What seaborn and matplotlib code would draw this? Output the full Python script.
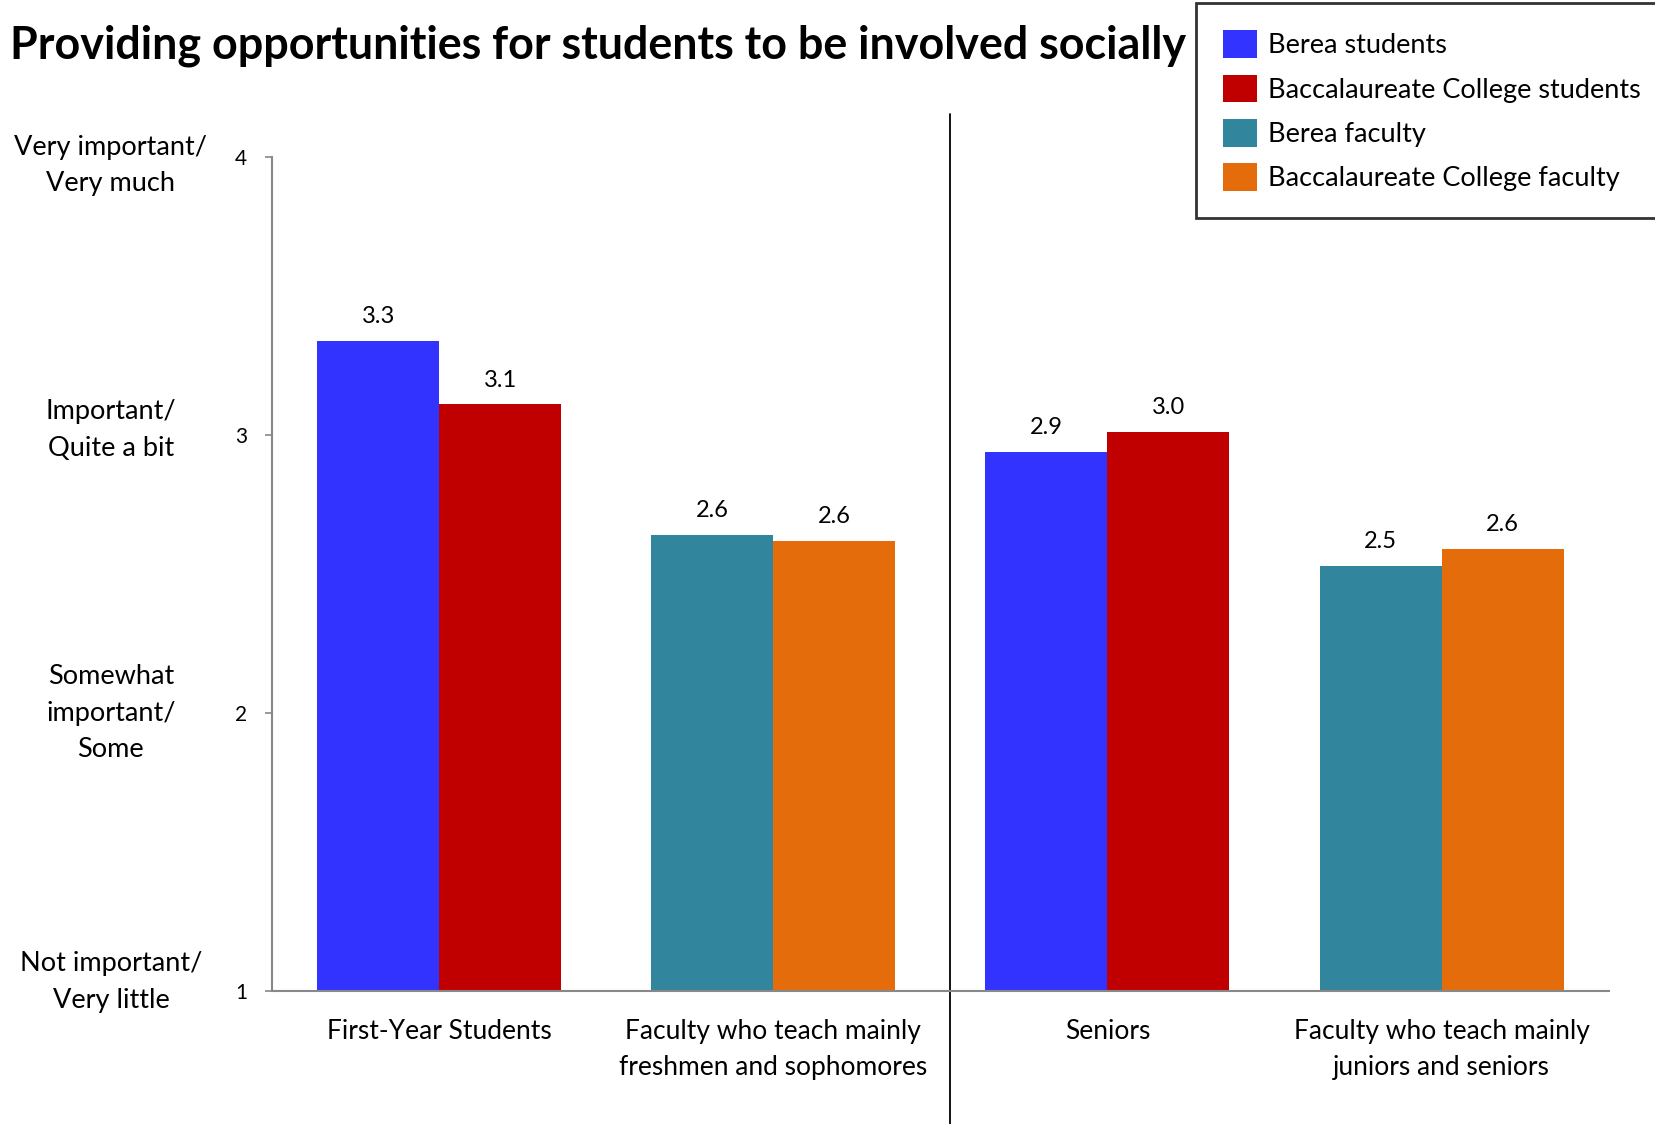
import matplotlib
matplotlib.use("Agg")
import matplotlib.pyplot as plt
from matplotlib.patches import Patch
from matplotlib.transforms import blended_transform_factory
import seaborn as sns
import pandas as pd

# Survey means on a 1-4 scale
categories = [
    "First-Year Students",
    "Faculty who teach mainly\nfreshmen and sophomores",
    "Seniors",
    "Faculty who teach mainly\njuniors and seniors",
]
berea_values = [3.34, 2.64, 2.94, 2.53]          # Berea students / Berea faculty
baccalaureate_values = [3.11, 2.62, 3.01, 2.59]  # Baccalaureate College students / faculty
left_series = ["Berea students", "Berea faculty", "Berea students", "Berea faculty"]
right_series = ["Baccalaureate College students", "Baccalaureate College faculty",
                "Baccalaureate College students", "Baccalaureate College faculty"]

series_names = ["Berea students", "Baccalaureate College students",
                "Berea faculty", "Baccalaureate College faculty"]
series_colors = ["#3333FF", "#C00000", "#31859C", "#E46C0A"]

y_ticks = [1, 2, 3, 4]
y_descriptions = ["Not important/\nVery little", "Somewhat\nimportant/\nSome",
                  "Important/\nQuite a bit", "Very important/\nVery much"]

title = "Providing opportunities for students to be involved socially"

df = pd.DataFrame({
    "category": categories * 2,
    "slot": ["Berea"] * 4 + ["Baccalaureate"] * 4,
    "series": left_series + right_series,
    "value": berea_values + baccalaureate_values,
})

sns.set_theme(style="white")
plt.rcParams["font.family"] = ["Lato", "DejaVu Sans"]
plt.rcParams["text.color"] = "black"
plt.rcParams["axes.labelcolor"] = "black"
plt.rcParams["xtick.color"] = "black"
plt.rcParams["ytick.color"] = "black"

fig = plt.figure(figsize=(16.55, 11.24), dpi=100)
ax = fig.add_axes([0.1644, 0.1183, 0.8076, 0.742])

sns.barplot(data=df, x="category", y="value", hue="slot", order=categories,
            hue_order=["Berea", "Baccalaureate"], width=0.73, saturation=1,
            legend=False, ax=ax, errorbar=None)

color_of = dict(zip(series_names, series_colors))
for container, slot in zip(ax.containers, ["Berea", "Baccalaureate"]):
    sub = df[df["slot"] == slot].set_index("category").loc[categories]
    for bar, name in zip(container, sub["series"]):
        bar.set_facecolor(color_of[name])
        bar.set_edgecolor("none")
        bar.set_linewidth(0)
    ax.bar_label(container, labels=[f"{v:.1f}" for v in sub["value"]],
                 padding=10, fontsize=17, color="black")

ax.set_ylim(1, 4)
ax.set_xlim(-0.5, 3.5)
ax.set_xlabel("")
ax.set_ylabel("")

for side in ["top", "right"]:
    ax.spines[side].set_visible(False)
for side in ["left", "bottom"]:
    ax.spines[side].set_color("#888888")
    ax.spines[side].set_linewidth(1.5)

ax.set_yticks(y_ticks)
ax.set_yticklabels([str(t) for t in y_ticks])
ax.tick_params(axis="y", left=True, length=5, width=1.2, color="#888888",
               pad=13, labelsize=15, labelcolor="black")
ax.tick_params(axis="x", bottom=False, length=0, pad=20, labelsize=19,
               labelcolor="black")
for lbl in ax.get_xticklabels():
    lbl.set_linespacing(1.55)

# Scale descriptions beside the numeric ticks (small vertical nudges)
trans = blended_transform_factory(fig.transFigure, ax.transData)
nudges = [0.033, 0.0, 0.018, -0.03]
for t, desc, dy in zip(y_ticks, y_descriptions, nudges):
    ax.text(0.067, t + dy, desc, transform=trans, ha="center", va="center",
            fontsize=19.5, linespacing=1.58, color="black")

# Divider between the first-year and senior panels
ax.axvline(1.528, ymin=-0.16, ymax=1.052, color="black", linewidth=1.3,
           clip_on=False)

fig.text(0.006, 0.959, title, fontsize=32.3, fontweight="bold", ha="left",
         va="center", color="black")

handles = [Patch(facecolor=c, edgecolor="none") for c in series_colors]
leg = fig.legend(handles, series_names, loc="upper left",
                 bbox_to_anchor=(0.7227, 0.997), fontsize=19.5, frameon=True,
                 fancybox=False, edgecolor="black", handlelength=1.25,
                 handleheight=1.2, handletextpad=0.4, labelspacing=0.6,
                 borderpad=1.0, borderaxespad=0, labelcolor="black")
leg.get_frame().set_linewidth(2)

fig.savefig("out.png", dpi=100)
